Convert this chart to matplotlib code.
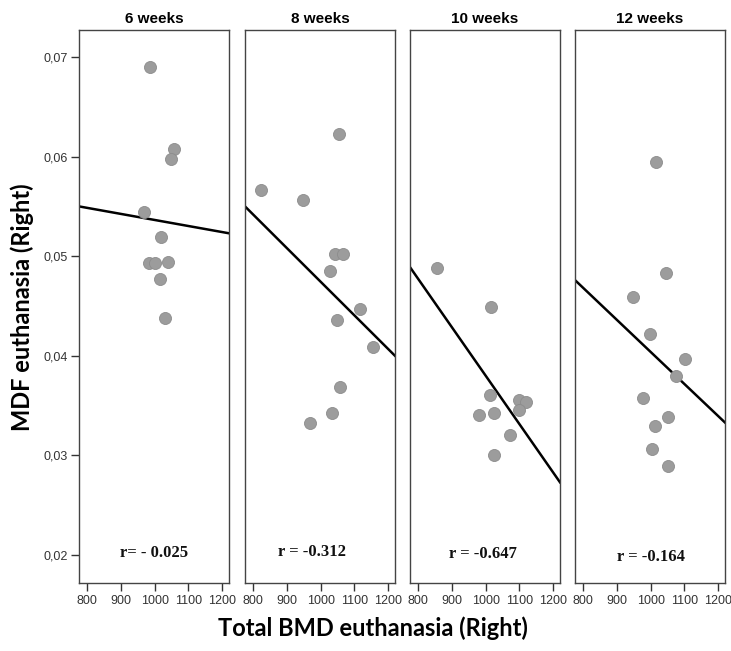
import matplotlib.pyplot as plt
import numpy as np

# values
panel_titles = ["6 weeks", "8 weeks", "10 weeks", "12 weeks"]
r_labels = ["r= - 0.025", "r = -0.312", "r = -0.647", "r = -0.164"]

bmd_6w = [985, 1058, 1049, 967, 1019, 982, 1002, 1040, 1017, 1031]
mdf_6w = [0.0690, 0.0608, 0.0598, 0.0544, 0.0519, 0.0493, 0.0493, 0.0494, 0.0477, 0.0438]

bmd_8w = [1055, 823, 949, 1043, 1066, 1028, 1115, 1049, 1155, 1057, 1034, 969]
mdf_8w = [0.0623, 0.0566, 0.0556, 0.0502, 0.0502, 0.0485, 0.0447, 0.0436, 0.0409, 0.0369, 0.0343, 0.0333]

bmd_10w = [855, 1017, 1014, 1098, 1120, 1098, 979, 1026, 1071, 1026]
mdf_10w = [0.0488, 0.0449, 0.0361, 0.0356, 0.0354, 0.0346, 0.0341, 0.0343, 0.0320, 0.0300]

bmd_12w = [1016, 1046, 947, 997, 1103, 1076, 976, 1052, 1012, 1005, 1051]
mdf_12w = [0.0595, 0.0483, 0.0459, 0.0422, 0.0397, 0.0380, 0.0358, 0.0339, 0.0330, 0.0306, 0.0289]

# fitted line, value at the left and right end of the x range
fit_x = [776, 1220]
fit_6w = [0.0550, 0.0523]
fit_8w = [0.0550, 0.0400]
fit_10w = [0.0489, 0.0273]
fit_12w = [0.0476, 0.0333]

x_ticks = [800, 900, 1000, 1100, 1200]
y_ticks = [0.02, 0.03, 0.04, 0.05, 0.06, 0.07]
y_tick_labels = ["0,02", "0,03", "0,04", "0,05", "0,06", "0,07"]

panels = [
    (bmd_6w, mdf_6w, fit_6w),
    (bmd_8w, mdf_8w, fit_8w),
    (bmd_10w, mdf_10w, fit_10w),
    (bmd_12w, mdf_12w, fit_12w),
]

# layout (pixels of the 731x651 reference)
W, H = 731, 651
lefts = [79, 245, 410, 575]
r_pos = [(0.50, 0.054), (0.447, 0.056), (0.487, 0.052), (0.507, 0.047)]

narrow = ["Liberation Sans Narrow", "Liberation Sans"]

fig = plt.figure(figsize=(W / 100, H / 100), dpi=100)
fig.patch.set_facecolor("white")

for i, (xs, ys, fit) in enumerate(panels):
    ax = fig.add_axes([lefts[i] / W, (H - 583) / H, 150 / W, 553 / H])
    ax.scatter(xs, ys, s=75, color="#9c9c9c", edgecolors="#8c8c8c", linewidths=0.6, zorder=3)
    ax.plot(fit_x, fit, color="black", lw=1.8, zorder=2)
    ax.set_xlim(776, 1220)
    ax.set_ylim(0.01719, 0.07271)
    ax.set_xticks(x_ticks)
    ax.set_xticklabels([str(t) for t in x_ticks], family=narrow, fontsize=9, color="#333333")
    ax.tick_params(axis="x", length=6, width=1, color="#333333", pad=3)
    if i == 0:
        ax.set_yticks(y_ticks)
        ax.set_yticklabels(y_tick_labels, family=narrow, fontsize=9, color="#333333")
        ax.tick_params(axis="y", length=6, width=1, color="#333333", pad=2)
    else:
        ax.set_yticks([])
    for sp in ax.spines.values():
        sp.set_color("#444444")
        sp.set_linewidth(1)
    ax.set_title(panel_titles[i], fontsize=11, fontweight="bold", family=narrow, pad=5)
    ax.text(r_pos[i][0], r_pos[i][1], r_labels[i], transform=ax.transAxes, ha="center", va="center",
            family="Liberation Serif", fontsize=12, fontweight="bold", color="#111111")

fig.text(373 / W, 1 - 628 / H, "Total BMD euthanasia (Right)", ha="center", va="center",
         family="Lato", fontweight="bold", fontsize=17)
fig.text(22 / W, 1 - 307 / H, "MDF euthanasia (Right)", ha="center", va="center", rotation=90,
         family="Lato", fontweight="bold", fontsize=17)

fig.savefig("out.png", dpi=100)
